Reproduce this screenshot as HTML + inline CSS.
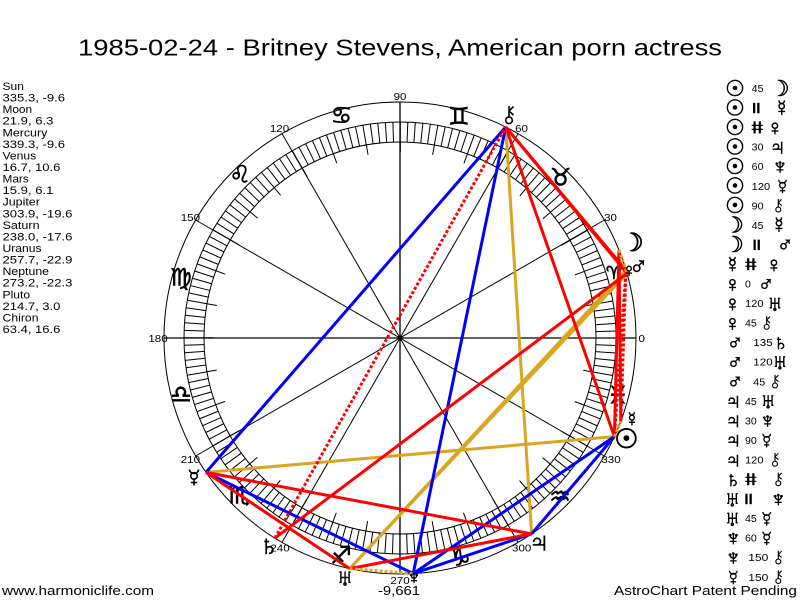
<!DOCTYPE html>
<html>
<head>
<meta charset="utf-8">
<style>
html,body{margin:0;padding:0;background:#fff;}
svg{display:block;}
text{font-family:"Liberation Sans","DejaVu Sans",sans-serif;fill:#000;}
.g{font-family:"DejaVu Sans","Liberation Sans",sans-serif;stroke:#000;stroke-width:0.6;}
</style>
</head>
<body>
<svg width="800" height="600" viewBox="0 0 800 600" xmlns="http://www.w3.org/2000/svg">
<rect width="800" height="600" fill="#fff"/>

<!-- Title -->
<text x="78" y="55.5" font-size="23" textLength="644" lengthAdjust="spacingAndGlyphs">1985-02-24 - Britney Stevens, American porn actress</text>

<!-- Left list -->
<g font-size="11">
<text x="2.5" y="90" textLength="21.4" lengthAdjust="spacingAndGlyphs">Sun</text>
<text x="2.5" y="101.6" textLength="62.5" lengthAdjust="spacingAndGlyphs">335.3, -9.6</text>
<text x="2.5" y="113.1" textLength="29.6" lengthAdjust="spacingAndGlyphs">Moon</text>
<text x="2.5" y="124.7" textLength="50.9" lengthAdjust="spacingAndGlyphs">21.9, 6.3</text>
<text x="2.5" y="136.3" textLength="44.8" lengthAdjust="spacingAndGlyphs">Mercury</text>
<text x="2.5" y="147.9" textLength="62.5" lengthAdjust="spacingAndGlyphs">339.3, -9.6</text>
<text x="2.5" y="159.4" textLength="33.7" lengthAdjust="spacingAndGlyphs">Venus</text>
<text x="2.5" y="171" textLength="57.9" lengthAdjust="spacingAndGlyphs">16.7, 10.6</text>
<text x="2.5" y="182.6" textLength="26.3" lengthAdjust="spacingAndGlyphs">Mars</text>
<text x="2.5" y="194.1" textLength="50.9" lengthAdjust="spacingAndGlyphs">15.9, 6.1</text>
<text x="2.5" y="205.7" textLength="37.4" lengthAdjust="spacingAndGlyphs">Jupiter</text>
<text x="2.5" y="217.3" textLength="69.9" lengthAdjust="spacingAndGlyphs">303.9, -19.6</text>
<text x="2.5" y="228.8" textLength="37.1" lengthAdjust="spacingAndGlyphs">Saturn</text>
<text x="2.5" y="240.4" textLength="69.9" lengthAdjust="spacingAndGlyphs">238.0, -17.6</text>
<text x="2.5" y="252" textLength="39" lengthAdjust="spacingAndGlyphs">Uranus</text>
<text x="2.5" y="263.6" textLength="69.9" lengthAdjust="spacingAndGlyphs">257.7, -22.9</text>
<text x="2.5" y="275.1" textLength="46.5" lengthAdjust="spacingAndGlyphs">Neptune</text>
<text x="2.5" y="286.7" textLength="69.9" lengthAdjust="spacingAndGlyphs">273.2, -22.3</text>
<text x="2.5" y="298.3" textLength="27.6" lengthAdjust="spacingAndGlyphs">Pluto</text>
<text x="2.5" y="309.8" textLength="57.9" lengthAdjust="spacingAndGlyphs">214.7, 3.0</text>
<text x="2.5" y="321.4" textLength="36" lengthAdjust="spacingAndGlyphs">Chiron</text>
<text x="2.5" y="333" textLength="57.9" lengthAdjust="spacingAndGlyphs">63.4, 16.6</text>
</g>

<!-- Wheel -->
<g fill="none" stroke="#000">
<circle cx="400" cy="338" r="236" stroke-width="1"/>
<circle cx="400" cy="338" r="216" stroke-width="1"/>
<circle cx="400" cy="338" r="196" stroke-width="1"/>
<circle cx="400" cy="338" r="206" stroke-width="20" stroke-dasharray="1 6.19076" stroke-dashoffset="0.5"/>
<circle cx="400" cy="338" r="191" stroke-width="10" stroke-dasharray="1 32.33579" stroke-dashoffset="0.5"/>
<line x1="164" y1="338" x2="636" y2="338" stroke-width="1.3"/>
<line x1="400" y1="102" x2="400" y2="574" stroke-width="1.3"/>
<line x1="604.4" y1="220" x2="195.6" y2="456" stroke-width="1"/>
<line x1="518" y1="133.6" x2="282" y2="542.4" stroke-width="1"/>
<line x1="282" y1="133.6" x2="518" y2="542.4" stroke-width="1"/>
<line x1="195.6" y1="220" x2="604.4" y2="456" stroke-width="1"/>
</g>
<circle cx="400" cy="338" r="2.5" fill="#000"/>

<!-- Degree labels -->
<g font-size="10.5" text-anchor="middle">
<text x="641.7" y="341.8" textLength="6.4" lengthAdjust="spacingAndGlyphs">0</text>
<text x="610.5" y="221" textLength="12.8" lengthAdjust="spacingAndGlyphs">30</text>
<text x="521.5" y="132.2" textLength="12.8" lengthAdjust="spacingAndGlyphs">60</text>
<text x="400" y="100" textLength="12.8" lengthAdjust="spacingAndGlyphs">90</text>
<text x="279.5" y="132.2" textLength="19.3" lengthAdjust="spacingAndGlyphs">120</text>
<text x="190.4" y="220.8" textLength="19.3" lengthAdjust="spacingAndGlyphs">150</text>
<text x="158" y="341.8" textLength="19.3" lengthAdjust="spacingAndGlyphs">180</text>
<text x="190.4" y="462.8" textLength="19.3" lengthAdjust="spacingAndGlyphs">210</text>
<text x="280" y="551.4" textLength="19.3" lengthAdjust="spacingAndGlyphs">240</text>
<text x="400" y="583.8" textLength="19.3" lengthAdjust="spacingAndGlyphs">270</text>
<text x="521.7" y="551.4" textLength="19.3" lengthAdjust="spacingAndGlyphs">300</text>
<text x="611" y="462.8" textLength="19.3" lengthAdjust="spacingAndGlyphs">330</text>
</g>
<text x="399" y="595" font-size="12.5" text-anchor="middle" textLength="42" lengthAdjust="spacingAndGlyphs">-9,661</text>

<!-- Zodiac glyphs -->
<g class="g" font-size="24" text-anchor="middle" dominant-baseline="central" stroke-width="0.4">
<text x="614" y="273" font-size="18">♈</text>
<text x="560.5" y="178">♉</text>
<text x="459" y="117">♊</text>
<text x="341.5" y="116">♋</text>
<text x="240" y="175">♌</text>
<text x="181" y="278">♍</text>
<text x="181" y="395">♎</text>
<text x="239" y="496">♏</text>
<text x="341" y="556">♐</text>
<text x="460" y="558">♑</text>
<text x="560" y="497">♒</text>
<text x="618" y="396">♓</text>
</g>

<!-- Aspect lines -->
<g stroke-width="3" fill="none" stroke-linecap="butt">
<g stroke="#DAA520">
<line x1="614.4" y1="436.6" x2="206" y2="472.4"/>
<line x1="626" y1="270.2" x2="349.7" y2="568.6"/>
<line x1="627" y1="273.3" x2="349.7" y2="568.6"/>
<line x1="531.6" y1="533.9" x2="505.7" y2="127"/>
</g>
<g stroke="#0000FF">
<line x1="614.4" y1="436.6" x2="531.6" y2="533.9"/>
<line x1="614.4" y1="436.6" x2="413.2" y2="573.6"/>
<line x1="531.6" y1="533.9" x2="413.2" y2="573.6"/>
<line x1="413.2" y1="573.6" x2="206" y2="472.4"/>
<line x1="413.2" y1="573.6" x2="505.7" y2="127"/>
<line x1="206" y1="472.4" x2="505.7" y2="127"/>
</g>
<g stroke="#FF0000">
<line x1="614.4" y1="436.6" x2="619" y2="250"/>
<line x1="614.4" y1="436.6" x2="505.7" y2="127"/>
<line x1="619" y1="250" x2="620.8" y2="421.4"/>
<line x1="626" y1="270.2" x2="627" y2="273.3"/>
<line x1="626" y1="270.2" x2="505.7" y2="127"/>
<line x1="627" y1="273.3" x2="274.9" y2="538.1"/>
<line x1="627" y1="273.3" x2="505.7" y2="127"/>
<line x1="531.6" y1="533.9" x2="349.7" y2="568.6"/>
<line x1="531.6" y1="533.9" x2="206" y2="472.4"/>
<line x1="349.7" y1="568.6" x2="206" y2="472.4"/>
</g>
<g stroke="#FF0000" stroke-dasharray="3 2">
<line x1="614.4" y1="436.6" x2="626" y2="270.2"/>
<line x1="620.8" y1="421.4" x2="626" y2="270.2"/>
<line x1="274.9" y1="538.1" x2="505.7" y2="127"/>
</g>
<g stroke="#DAA520" stroke-dasharray="3 2">
<line x1="614.4" y1="436.6" x2="620.8" y2="421.4"/>
<line x1="619" y1="250" x2="627" y2="273.3"/>
<line x1="349.7" y1="568.6" x2="413.2" y2="573.6"/>
</g>
</g>

<!-- Planet glyphs on wheel -->
<g class="g" text-anchor="middle" dominant-baseline="central">
<text x="626.5" y="439" font-size="27" stroke-width="0.9">☉</text>
<text x="632" y="420" font-size="20">☿</text>
<text x="632.5" y="243" font-size="25" stroke-width="0.9">☽</text>
<text x="629" y="271" font-size="19">♀</text>
<text x="638.5" y="266" font-size="26">♂</text>
<text x="539" y="542" font-size="28">♃</text>
<text x="269" y="545.5" font-size="28">♄</text>
<text x="345" y="578.5" font-size="24">♅</text>
<text x="414" y="578.5" font-size="19">♆</text>
</g>
<!-- Pluto on wheel -->
<g transform="translate(194,477.5)" fill="none" stroke="#000" stroke-width="1.6">
<path d="M-4.5,-8 A4.5,4 0 0 0 4.5,-8"/>
<circle cx="0" cy="-1.5" r="3.3"/>
<path d="M0,1.8 V8 M-3.2,5 H3.2"/>
</g>
<!-- Chiron on wheel -->
<g transform="translate(509,115)" fill="none" stroke="#000" stroke-width="1.6">
<path d="M0,-9 V2 M0,-4 L4.5,-8.5 M0,-4 L4.5,0"/>
<circle cx="0" cy="5.3" r="3.3"/>
</g>

<!-- Right legend -->
<g class="g" text-anchor="middle" dominant-baseline="central" font-size="22" stroke-width="0.7">
<text x="735" y="88.3">☉</text>
<text x="735" y="107.85">☉</text>
<text x="735" y="127.4">☉</text>
<text x="735" y="146.95">☉</text>
<text x="735" y="166.5">☉</text>
<text x="735" y="186.05">☉</text>
<text x="735" y="205.6">☉</text>
<text x="734" y="225.15">☽</text>
<text x="734" y="244.7">☽</text>
<text x="732.5" y="264.25">☿</text>
<text x="732.5" y="283.8">♀</text>
<text x="732.5" y="303.35">♀</text>
<text x="732.5" y="322.9">♀</text>
<text x="735" y="342.45">♂</text>
<text x="735" y="362">♂</text>
<text x="735" y="381.55">♂</text>
<text x="733.3" y="401.1">♃</text>
<text x="733.3" y="420.65">♃</text>
<text x="733.3" y="440.2">♃</text>
<text x="733.3" y="459.75">♃</text>
<text x="733.3" y="479.3">♄</text>
<text x="732.5" y="498.85">♅</text>
<text x="732.5" y="518.4">♅</text>
<text x="733.3" y="537.95">♆</text>
<text x="733.3" y="557.5">♆</text>
<text x="779.7" y="88.3">☽</text>
<text x="781.7" y="107.85">☿</text>
<text x="775" y="127.4">♀</text>
<text x="777.5" y="146.95">♃</text>
<text x="780" y="166.5">♆</text>
<text x="779" y="225.15">☿</text>
<text x="785" y="244.7">♂</text>
<text x="774" y="264.25">♀</text>
<text x="766" y="283.8">♂</text>
<text x="775" y="303.35">♅</text>
<text x="780.8" y="342.45">♄</text>
<text x="780" y="362">♅</text>
<text x="768.3" y="401.1">♅</text>
<text x="767.5" y="420.65">♆</text>
<text x="778.3" y="498.85">♆</text>
</g>
<!-- legend numbers -->
<g font-size="10">
<text x="751.7" y="92" textLength="11.8" lengthAdjust="spacingAndGlyphs">45</text>
<text x="751.7" y="150.7" textLength="11.8" lengthAdjust="spacingAndGlyphs">30</text>
<text x="751.7" y="170.2" textLength="11.8" lengthAdjust="spacingAndGlyphs">60</text>
<text x="751.7" y="189.8" textLength="18.5" lengthAdjust="spacingAndGlyphs">120</text>
<text x="751.7" y="209.3" textLength="11.8" lengthAdjust="spacingAndGlyphs">90</text>
<text x="751.7" y="228.9" textLength="11.8" lengthAdjust="spacingAndGlyphs">45</text>
<text x="745" y="287.5" textLength="5.8" lengthAdjust="spacingAndGlyphs">0</text>
<text x="745" y="307.1" textLength="18.5" lengthAdjust="spacingAndGlyphs">120</text>
<text x="745" y="326.6" textLength="11.8" lengthAdjust="spacingAndGlyphs">45</text>
<text x="753.3" y="346.2" textLength="19.4" lengthAdjust="spacingAndGlyphs">135</text>
<text x="753.3" y="365.7" textLength="19.4" lengthAdjust="spacingAndGlyphs">120</text>
<text x="753.3" y="385.3" textLength="11.8" lengthAdjust="spacingAndGlyphs">45</text>
<text x="745" y="404.8" textLength="11.8" lengthAdjust="spacingAndGlyphs">45</text>
<text x="745" y="424.4" textLength="11.8" lengthAdjust="spacingAndGlyphs">30</text>
<text x="745" y="443.9" textLength="11.8" lengthAdjust="spacingAndGlyphs">90</text>
<text x="745" y="463.5" textLength="18.5" lengthAdjust="spacingAndGlyphs">120</text>
<text x="745" y="522.1" textLength="11.8" lengthAdjust="spacingAndGlyphs">45</text>
<text x="745" y="541.7" textLength="11.8" lengthAdjust="spacingAndGlyphs">60</text>
<text x="748.3" y="561.2" textLength="20" lengthAdjust="spacingAndGlyphs">150</text>
<text x="748.3" y="580.8" textLength="20" lengthAdjust="spacingAndGlyphs">150</text>
</g>
<!-- parallel bars -->
<g fill="#000">
<rect x="753" y="102.8" width="2.3" height="10.5"/>
<rect x="757.2" y="102.8" width="2.3" height="10.5"/>
<rect x="753.5" y="239.6" width="2.3" height="10.5"/>
<rect x="757.6" y="239.6" width="2.3" height="10.5"/>
<rect x="745.3" y="493.7" width="2.3" height="10.5"/>
<rect x="749.5" y="493.7" width="2.3" height="10.5"/>
</g>
<!-- contraparallel marks -->
<g stroke="#000" fill="none">
<g transform="translate(757.2,127.4)">
<path d="M-2.6,-6 V6 M2.6,-6 V6" stroke-width="2.2"/>
<path d="M-5.5,-2 H5.5 M-5.5,2 H5.5" stroke-width="1.2"/>
</g>
<g transform="translate(750.8,264.25)">
<path d="M-2.6,-6 V6 M2.6,-6 V6" stroke-width="2.2"/>
<path d="M-5.5,-2 H5.5 M-5.5,2 H5.5" stroke-width="1.2"/>
</g>
<g transform="translate(750.8,479.3)">
<path d="M-2.6,-6 V6 M2.6,-6 V6" stroke-width="2.2"/>
<path d="M-5.5,-2 H5.5 M-5.5,2 H5.5" stroke-width="1.2"/>
</g>
</g>
<!-- legend Pluto icons -->
<g fill="none" stroke="#000" stroke-width="1.5">
<g transform="translate(782.5,186.5) scale(0.85)"><path d="M-4.5,-8 A4.5,4 0 0 0 4.5,-8"/><circle cx="0" cy="-1.5" r="3.3"/><path d="M0,1.8 V8 M-3.2,5 H3.2"/></g>
<g transform="translate(766.7,440.6) scale(0.85)"><path d="M-4.5,-8 A4.5,4 0 0 0 4.5,-8"/><circle cx="0" cy="-1.5" r="3.3"/><path d="M0,1.8 V8 M-3.2,5 H3.2"/></g>
<g transform="translate(766.7,518.8) scale(0.85)"><path d="M-4.5,-8 A4.5,4 0 0 0 4.5,-8"/><circle cx="0" cy="-1.5" r="3.3"/><path d="M0,1.8 V8 M-3.2,5 H3.2"/></g>
<g transform="translate(766.7,538.4) scale(0.85)"><path d="M-4.5,-8 A4.5,4 0 0 0 4.5,-8"/><circle cx="0" cy="-1.5" r="3.3"/><path d="M0,1.8 V8 M-3.2,5 H3.2"/></g>
<g transform="translate(733.3,577.5) scale(0.85)"><path d="M-4.5,-8 A4.5,4 0 0 0 4.5,-8"/><circle cx="0" cy="-1.5" r="3.3"/><path d="M0,1.8 V8 M-3.2,5 H3.2"/></g>
</g>
<!-- legend Chiron icons -->
<g fill="none" stroke="#000" stroke-width="1.5">
<g transform="translate(778.3,205.6) scale(0.75)"><path d="M0,-9 V2 M0,-4 L4.5,-8.5 M0,-4 L4.5,0"/><circle cx="0" cy="5.3" r="3.3"/></g>
<g transform="translate(766.7,322.9) scale(0.75)"><path d="M0,-9 V2 M0,-4 L4.5,-8.5 M0,-4 L4.5,0"/><circle cx="0" cy="5.3" r="3.3"/></g>
<g transform="translate(775,381.55) scale(0.75)"><path d="M0,-9 V2 M0,-4 L4.5,-8.5 M0,-4 L4.5,0"/><circle cx="0" cy="5.3" r="3.3"/></g>
<g transform="translate(775,459.75) scale(0.75)"><path d="M0,-9 V2 M0,-4 L4.5,-8.5 M0,-4 L4.5,0"/><circle cx="0" cy="5.3" r="3.3"/></g>
<g transform="translate(778.3,479.3) scale(0.75)"><path d="M0,-9 V2 M0,-4 L4.5,-8.5 M0,-4 L4.5,0"/><circle cx="0" cy="5.3" r="3.3"/></g>
<g transform="translate(778.3,557.5) scale(0.75)"><path d="M0,-9 V2 M0,-4 L4.5,-8.5 M0,-4 L4.5,0"/><circle cx="0" cy="5.3" r="3.3"/></g>
<g transform="translate(778.3,577.05) scale(0.75)"><path d="M0,-9 V2 M0,-4 L4.5,-8.5 M0,-4 L4.5,0"/><circle cx="0" cy="5.3" r="3.3"/></g>
</g>

<!-- Footer -->
<text x="2" y="595" font-size="13" textLength="152" lengthAdjust="spacingAndGlyphs">www.harmoniclife.com</text>
<text x="614" y="595" font-size="13" textLength="183" lengthAdjust="spacingAndGlyphs">AstroChart Patent Pending</text>
</svg>
</body>
</html>
